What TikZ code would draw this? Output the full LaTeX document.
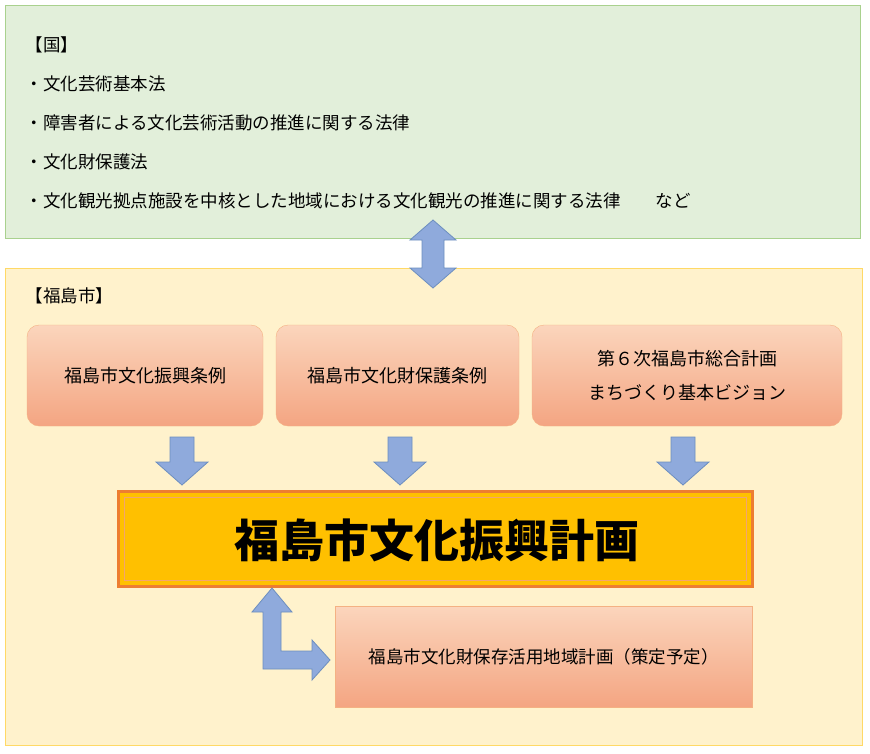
\documentclass[tikz,border=0pt]{standalone}
\usepackage{fontspec}
\setmainfont{Noto Sans CJK JP}
\usetikzlibrary{positioning}
\definecolor{cGreenFill}{HTML}{E2EFDA}
\definecolor{cGreenLine}{HTML}{A9D18E}
\definecolor{cYellowFill}{HTML}{FFF2CC}
\definecolor{cYellowLine}{HTML}{FFD966}
\definecolor{cSalmonTop}{HTML}{FBD5BC}
\definecolor{cSalmonBot}{HTML}{F4A582}
\definecolor{cSalmonLine}{HTML}{F4B183}
\definecolor{cArrowFill}{HTML}{8FAADC}
\definecolor{cArrowLine}{HTML}{6C8EBF}
\definecolor{cGold}{HTML}{FFC000}
\definecolor{cOrange}{HTML}{ED7D31}
\tikzset{
  lawtext/.style={anchor=west, font=\fontsize{17.5}{20}\selectfont},
  ordbox/.style={rounded corners=12pt, draw=cSalmonLine, top color=cSalmonTop, bottom color=cSalmonBot,
    align=center, font=\fontsize{18}{34}\selectfont},
  blockarrow/.style={fill=cArrowFill, draw=cArrowLine, line width=0.8pt}
}
\begin{document}
\begin{tikzpicture}[x=1pt,y=-1pt]
        \useasboundingbox (0,0) rectangle (870,753);

        % national laws
        \draw[cGreenLine, fill=cGreenFill] (5,5) rectangle (860,238);
        \node[lawtext] (nKuni) at (22,45) {【国】};
        \node[lawtext] (nLawA) at (22,84) {・文化芸術基本法};
        \node[lawtext] (nLawB) at (22,123) {・障害者による文化芸術活動の推進に関する法律};
        \node[lawtext] (nLawC) at (22,162) {・文化財保護法};
        \node[lawtext] (nLawD) at (22,201) {・文化観光拠点施設を中核とした地域における文化観光の推進に関する法律　　など};

        % city
        \draw[cYellowLine, fill=cYellowFill] (5,268) rectangle (862,745);
        \node[lawtext] (nCity) at (22,296) {【福島市】};

        \draw[blockarrow] (433,220) -- (456,240) -- (444,240) -- (444,268) -- (456,268)
          -- (433,288) -- (410,268) -- (422,268) -- (422,240) -- (410,240) -- cycle;

        \node[ordbox, minimum width=236pt, minimum height=101pt] (nOrdA) at (145,375.5) {福島市文化振興条例};
        \node[ordbox, minimum width=243pt, minimum height=101pt] (nOrdB) at (397.5,375.5) {福島市文化財保護条例};
        \node[ordbox, minimum width=310pt, minimum height=101pt] (nOrdC) at (687,375.5) {第６次福島市総合計画\\まちづくり基本ビジョン};

        \foreach \cx in {182,400,683}{
          \draw[blockarrow] (\cx-12,437) -- (\cx+12,437) -- (\cx+12,462) -- (\cx+26,462)
            -- (\cx,485) -- (\cx-26,462) -- (\cx-12,462) -- cycle;
        }

        % main plan
        \draw[cOrange, line width=3pt, fill=cGold] (118,491) rectangle (752,586);
        \draw[cOrange!70, line width=1pt] (124,497) rectangle (746,580);
        \node[font=\fontsize{45}{48}\selectfont\bfseries] (nPlan) at (437,540) {福島市文化振興計画};

        \node[draw=cSalmonLine, top color=cSalmonTop, bottom color=cSalmonBot, minimum width=417pt,
          minimum height=101pt, font=\fontsize{17.5}{20}\selectfont] (nRegion) at (543.5,656.5)
          {福島市文化財保存活用地域計画（策定予定）};

        \draw[blockarrow] (272,588) -- (292,612) -- (281,612) -- (281,651) -- (312,651) -- (312,640)
          -- (330,660) -- (312,680) -- (312,669) -- (263,669) -- (263,612) -- (252,612) -- cycle;
\end{tikzpicture}
\end{document}
